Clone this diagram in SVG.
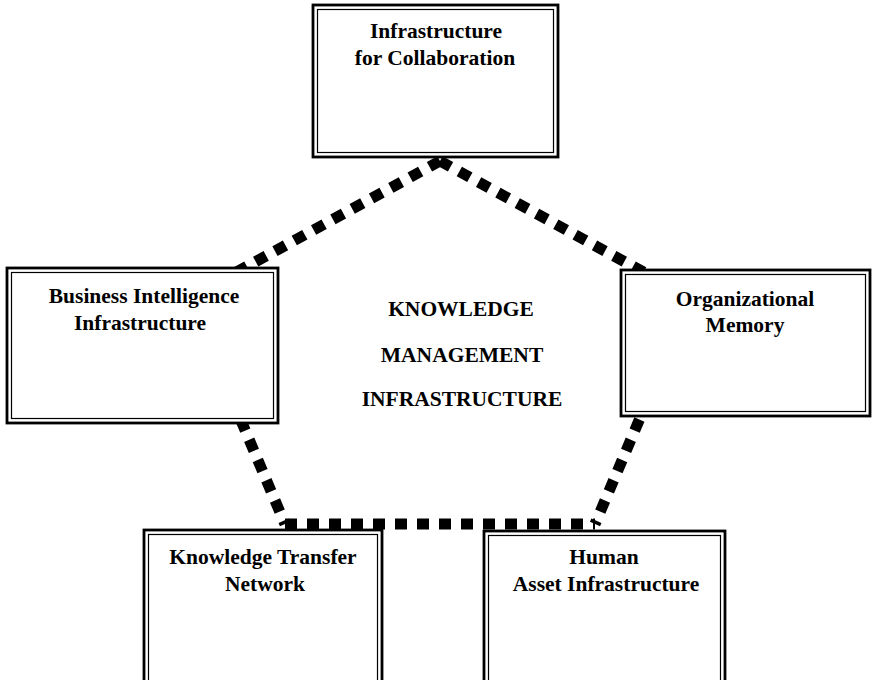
<svg xmlns="http://www.w3.org/2000/svg" width="872" height="680" viewBox="0 0 872 680">
  <style>
    .outer { fill: #ffffff; stroke: #000000; stroke-width: 2.8; }
    .inner { fill: none; stroke: #000000; stroke-width: 1.2; }
    .label { font-family: "Liberation Serif", "Times New Roman", serif; font-weight: bold; font-size: 21.5px; fill: #000000; text-anchor: middle; }
    .dots { stroke: #000000; stroke-width: 11; stroke-dasharray: 12 10; fill: none; }
  </style>

  <rect width="872" height="680" fill="#ffffff"/>

  <!-- dotted pentagon linking the five components -->
  <g id="connectors">
    <line class="dots" x1="440" y1="161" x2="189" y2="298"/>
    <line class="dots" x1="440" y1="161" x2="691" y2="298"/>
    <line class="dots" x1="189" y1="298" x2="285" y2="524"/>
    <line class="dots" x1="691" y1="298" x2="595" y2="524"/>
    <line class="dots" x1="285" y1="524" x2="595" y2="524"/>
  </g>

  <g id="collaboration">
    <rect class="outer" x="313" y="5" width="245" height="152"/>
    <rect class="inner" x="317.5" y="9.5" width="236" height="143"/>
    <text class="label" x="436" y="38">Infrastructure</text>
    <text class="label" x="435" y="65">for Collaboration</text>
  </g>

  <g id="business-intelligence">
    <rect class="outer" x="7" y="268" width="271" height="155"/>
    <rect class="inner" x="11.5" y="272.5" width="262" height="146"/>
    <text class="label" x="144" y="303">Business Intelligence</text>
    <text class="label" x="140" y="330">Infrastructure</text>
  </g>

  <g id="organizational-memory">
    <rect class="outer" x="621" y="270" width="249" height="146"/>
    <rect class="inner" x="625.5" y="274.5" width="240" height="137"/>
    <text class="label" x="745" y="306">Organizational</text>
    <text class="label" x="745" y="332">Memory</text>
  </g>

  <g id="knowledge-transfer">
    <rect class="outer" x="144" y="530" width="238" height="160"/>
    <rect class="inner" x="148.5" y="534.5" width="229" height="160"/>
    <text class="label" x="263" y="564">Knowledge Transfer</text>
    <text class="label" x="265" y="591">Network</text>
  </g>

  <g id="human-asset">
    <rect class="outer" x="484" y="531" width="241" height="160"/>
    <rect class="inner" x="488.5" y="535.5" width="232" height="160"/>
    <text class="label" x="604" y="564">Human</text>
    <text class="label" x="606" y="591">Asset Infrastructure</text>
  </g>

  <g id="center-title">
    <text class="label" x="461" y="316">KNOWLEDGE</text>
    <text class="label" x="462" y="362">MANAGEMENT</text>
    <text class="label" x="462" y="406">INFRASTRUCTURE</text>
  </g>
</svg>
